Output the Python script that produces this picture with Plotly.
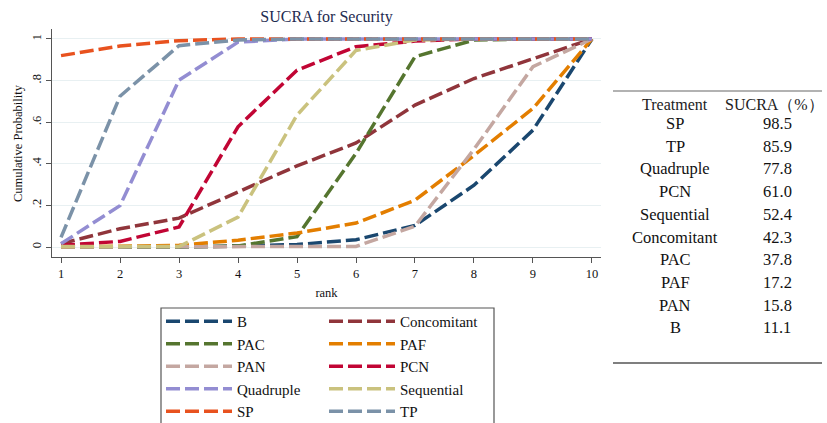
import plotly.graph_objects as go

# ---------------- data ----------------
ranks = [1, 2, 3, 4, 5, 6, 7, 8, 9, 10]
B = [0.0, 0.0, 0.0, 0.005, 0.012, 0.035, 0.104, 0.297, 0.562, 1.0]
Concomitant = [0.016, 0.088, 0.139, 0.265, 0.39, 0.5, 0.682, 0.81, 0.907, 1.0]
PAC = [0.0, 0.0, 0.0, 0.005, 0.05, 0.45, 0.915, 0.995, 1.0, 1.0]
PAF = [0.0, 0.002, 0.008, 0.033, 0.067, 0.115, 0.225, 0.44, 0.666, 1.0]
PAN = [0.0, 0.0, 0.0, 0.0, 0.0, 0.003, 0.1, 0.47, 0.867, 1.0]
PCN = [0.008, 0.027, 0.096, 0.578, 0.85, 0.963, 0.99, 1.0, 1.0, 1.0]
Quadruple = [0.016, 0.199, 0.802, 0.985, 1.0, 1.0, 1.0, 1.0, 1.0, 1.0]
Sequential = [0.002, 0.002, 0.002, 0.144, 0.634, 0.945, 0.995, 1.0, 1.0, 1.0]
SP = [0.92, 0.966, 0.992, 1.0, 1.0, 1.0, 1.0, 1.0, 1.0, 1.0]
TP = [0.046, 0.725, 0.968, 0.995, 1.0, 1.0, 1.0, 1.0, 1.0, 1.0]

series_names = ["B", "Concomitant", "PAC", "PAF", "PAN", "PCN",
                "Quadruple", "Sequential", "SP", "TP"]
series_values = [B, Concomitant, PAC, PAF, PAN, PCN, Quadruple, Sequential, SP, TP]
series_colors = ["#1a476f", "#90353b", "#55752f", "#e37e00", "#c4a7a1", "#c10534",
                 "#938dd2", "#cac27e", "#e8521f", "#7b92a8"]

y_tick_vals = [0, 0.2, 0.4, 0.6, 0.8, 1]
y_tick_text = ["0", ".2", ".4", ".6", ".8", "1"]

table_treatments = ["SP", "TP", "Quadruple", "PCN", "Sequential", "Concomitant",
                    "PAC", "PAF", "PAN", "B"]
table_sucra = ["98.5", "85.9", "77.8", "61.0", "52.4", "42.3", "37.8", "17.2", "15.8", "11.1"]
table_headers = ["Treatment", "SUCRA（%）"]

# ---------------- layout geometry (pixels) ----------------
W, H = 827, 423
PL, PR, PT, PB = 52, 601, 29, 257   # plot area in pixels
FONT = "Liberation Serif, Times New Roman, serif"


def px_x(px):
    return (px - PL) / (PR - PL)


def px_y(py):
    return (PB - py) / (PB - PT)


fig = go.Figure()

left_col = {"B", "PAC", "PAN", "Quadruple", "SP"}
for name, vals, col in zip(series_names, series_values, series_colors):
    fig.add_trace(go.Scatter(
        x=ranks, y=vals, mode="lines", name=name,
        line=dict(color=col, width=3.5, dash="14px,5px"),
        legend="legend" if name in left_col else "legend2",
        hoverinfo="skip",
    ))

shapes = []
annotations = []

# legend box
shapes.append(dict(type="rect", xref="paper", yref="paper",
                   x0=px_x(161), x1=px_x(494), y0=px_y(308), y1=px_y(440),
                   line=dict(color="#555555", width=1.2), fillcolor="rgba(0,0,0,0)"))

# table rules
shapes.append(dict(type="line", xref="paper", yref="paper",
                   x0=px_x(613), x1=px_x(822), y0=px_y(91), y1=px_y(91),
                   line=dict(color="#999999", width=1.5)))
shapes.append(dict(type="line", xref="paper", yref="paper",
                   x0=px_x(613), x1=px_x(822), y0=px_y(363), y1=px_y(363),
                   line=dict(color="#555555", width=1.5)))

col_x = [675, 774]
header_y = 104
row_y0, row_step = 123.5, 22.7
for hx, htext in zip(col_x, table_headers):
    annotations.append(dict(x=px_x(hx), y=px_y(header_y), xref="paper", yref="paper",
                            text=htext, showarrow=False, xanchor="center", yanchor="middle",
                            font=dict(family=FONT, size=16, color="#222222")))
for i, (t, s) in enumerate(zip(table_treatments, table_sucra)):
    yy = row_y0 + i * row_step
    annotations.append(dict(x=px_x(col_x[0]), y=px_y(yy), xref="paper", yref="paper",
                            text=t, showarrow=False, xanchor="center", yanchor="middle",
                            font=dict(family=FONT, size=16.5, color="#111111")))
    annotations.append(dict(x=px_x(777), y=px_y(yy), xref="paper", yref="paper",
                            text=s, showarrow=False, xanchor="center", yanchor="middle",
                            font=dict(family=FONT, size=16.5, color="#111111")))

# y-axis title as rotated text beside the axis
annotations.append(dict(x=px_x(18), y=0.5, xref="paper", yref="paper",
                        text="Cumulative Probability", showarrow=False, textangle=-90,
                        xanchor="center", yanchor="middle",
                        font=dict(family=FONT, size=12.5, color="#111111")))

legend_common = dict(
    xanchor="left", yanchor="top", orientation="v",
    xref="container", yref="container",
    bgcolor="rgba(0,0,0,0)", borderwidth=0,
    font=dict(family=FONT, size=15, color="#111111"),
    itemwidth=66, traceorder="normal", itemclick=False, itemdoubleclick=False,
)

fig.update_layout(
    width=W, height=H,
    margin=dict(l=PL, r=W - PR, t=PT, b=H - PB, autoexpand=False),
    paper_bgcolor="white", plot_bgcolor="white",
    font=dict(family=FONT, size=12.5, color="#111111"),
    title=dict(text="SUCRA for Security", x=0.5, xref="paper", xanchor="center",
               y=1 - 16 / H, yref="container", yanchor="middle",
               font=dict(family=FONT, size=16, color="#1e2b50")),
    xaxis=dict(range=[0.847, 10.153], tickvals=ranks, ticktext=[str(r) for r in ranks],
               showgrid=False, zeroline=False, showline=True, linecolor="#555555",
               linewidth=1.2, ticks="outside", ticklen=5, tickcolor="#555555",
               tickfont=dict(family=FONT, size=12.5, color="#111111"),
               automargin=False,
               title=dict(text="rank", standoff=8, font=dict(family=FONT, size=12.5))),
    yaxis=dict(range=[-0.048, 1.048], tickvals=y_tick_vals, ticktext=y_tick_text,
               tickangle=-90, showgrid=True, gridcolor="#e8f0f2", gridwidth=1,
               zeroline=False, showline=True, linecolor="#555555", linewidth=1.2,
               ticks="outside", ticklen=5, tickcolor="#555555",
               tickfont=dict(family=FONT, size=12.5, color="#111111"),
               automargin=False),
    legend=dict(x=161 / W, y=1 - 305 / H, **legend_common),
    legend2=dict(x=324 / W, y=1 - 305 / H, **legend_common),
    shapes=shapes,
    annotations=annotations,
    showlegend=True,
)

fig.write_html("out.html")
